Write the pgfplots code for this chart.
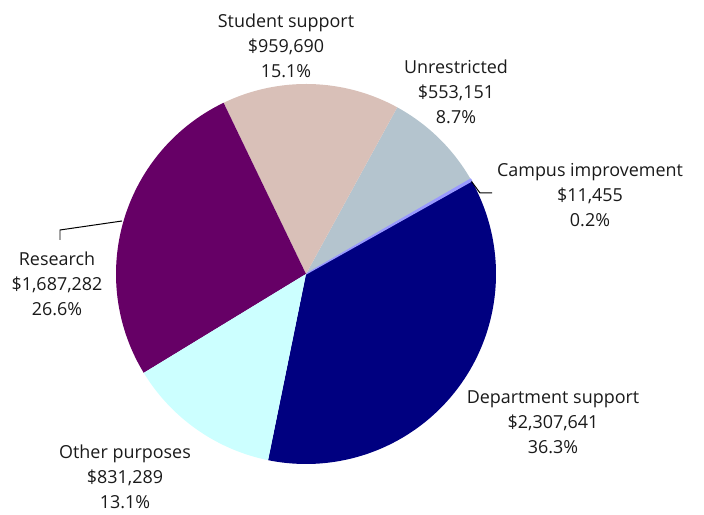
\documentclass[border=0pt]{standalone}
\usepackage{fontspec}
\setmainfont{Open Sans}
\usepackage{pgfplots}
\pgfplotsset{compat=1.18}
\definecolor{dept}{RGB}{0,0,128}
\definecolor{campus}{RGB}{153,153,255}
\definecolor{unres}{RGB}{180,196,206}
\definecolor{student}{RGB}{217,192,184}
\definecolor{research}{RGB}{102,0,102}
\definecolor{other}{RGB}{204,255,255}
\definecolor{txt}{RGB}{26,26,26}
\tikzset{lbl/.style={font=\fontsize{18}{25}\selectfont, text=txt, align=center, inner sep=0pt}}

\begin{document}
\begin{tikzpicture}
  % values in thousands of dollars (counterclockwise order)
  \def\vDept{2307.641}
  \def\vCampus{11.455}
  \def\vUnres{553.151}
  \def\vStudent{959.690}
  \def\vResearch{1687.282}
  \def\vOther{831.289}
  \pgfmathsetmacro\total{\vDept+\vCampus+\vUnres+\vStudent+\vResearch+\vOther}
  \pgfmathsetmacro\aA{29.3-360*(\vDept/\total)}
  \pgfmathsetmacro\aB{\aA+360*(\vDept/\total)}
  \pgfmathsetmacro\aC{\aB+360*(\vCampus/\total)}
  \pgfmathsetmacro\aD{\aC+360*(\vUnres/\total)}
  \pgfmathsetmacro\aE{\aD+360*(\vStudent/\total)}
  \pgfmathsetmacro\aF{\aE+360*(\vResearch/\total)}
  \pgfmathsetmacro\aG{\aA+360}
  \def\cx{306}\def\cy{241}\def\r{190}
  \begin{axis}[
    x=1bp, y=1bp,
    xmin=0, xmax=704, ymin=0, ymax=515,
    hide axis, clip=false,
  ]
  \addplot[draw=none, fill=dept, domain=\aA:\aB, samples=120, variable=\t]
    ({\cx+\r*cos(\t)},{\cy+\r*sin(\t)}) -- (axis cs:\cx,\cy) -- cycle;
  \addplot[draw=none, fill=unres, domain=\aC:\aD, samples=40, variable=\t]
    ({\cx+\r*cos(\t)},{\cy+\r*sin(\t)}) -- (axis cs:\cx,\cy) -- cycle;
  \addplot[draw=campus, line width=1.2pt, fill=campus, domain=\aB:\aC, samples=5, variable=\t]
    ({\cx+\r*cos(\t)},{\cy+\r*sin(\t)}) -- (axis cs:\cx,\cy) -- cycle;
  \addplot[draw=none, fill=student, domain=\aD:\aE, samples=60, variable=\t]
    ({\cx+\r*cos(\t)},{\cy+\r*sin(\t)}) -- (axis cs:\cx,\cy) -- cycle;
  \addplot[draw=none, fill=research, domain=\aE:\aF, samples=100, variable=\t]
    ({\cx+\r*cos(\t)},{\cy+\r*sin(\t)}) -- (axis cs:\cx,\cy) -- cycle;
  \addplot[draw=none, fill=other, domain=\aF:\aG, samples=60, variable=\t]
    ({\cx+\r*cos(\t)},{\cy+\r*sin(\t)}) -- (axis cs:\cx,\cy) -- cycle;
  % leader lines
  \addplot[black, line width=1pt] coordinates {(471.5,333.5) (480,322) (492,322)};
  \addplot[black, line width=1pt] coordinates {(122,294) (60,285) (60,275)};
  % labels
  \node[lbl] at (axis cs:286,469) {Student support\\\$959,690\\15.1\%};
  \node[lbl] at (axis cs:456,423) {Unrestricted\\\$553,151\\8.7\%};
  \node[lbl] at (axis cs:590,320) {Campus improvement\\\$11,455\\0.2\%};
  \node[lbl] at (axis cs:57,231) {Research\\\$1,687,282\\26.6\%};
  \node[lbl] at (axis cs:553,93) {Department support\\\$2,307,641\\36.3\%};
  \node[lbl] at (axis cs:125,38) {Other purposes\\\$831,289\\13.1\%};
  \end{axis}
  \pgfresetboundingbox
  \path (current axis.south west) rectangle (current axis.north east);
\end{tikzpicture}
\end{document}
